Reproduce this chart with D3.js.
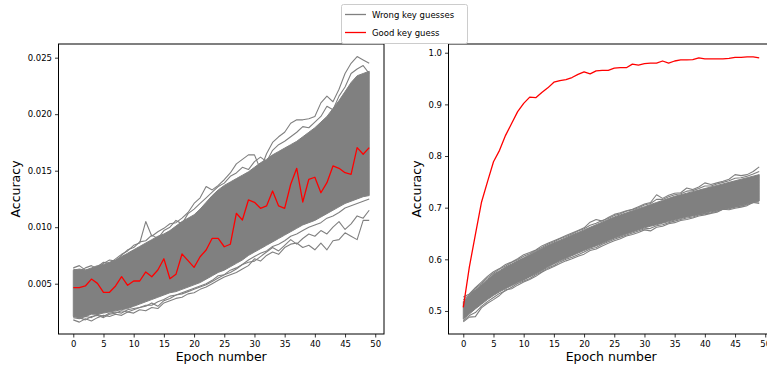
<!DOCTYPE html>
<html>
<head>
<meta charset="utf-8">
<script src="https://cdn.jsdelivr.net/npm/d3@7"></script>
<style>
  body { margin: 0; background: #fff; }
  svg text { font-family: "DejaVu Sans", sans-serif; fill: #000; }
</style>
</head>
<body>
<div id="chart"></div>
<script>
// epochs 0..49 (x categories)
var epochs = d3.range(50);
var xTicks = [0, 5, 10, 15, 20, 25, 30, 35, 40, 45, 50];

// ---- left panel (accuracy per key guess) ----
var leftGood = [0.00465,0.00465,0.0048,0.00541,0.00503,0.00424,0.00424,0.0048,0.00562,0.00486,
  0.00524,0.00524,0.00604,0.00562,0.00621,0.00721,0.00544,0.00583,0.00763,0.00704,
  0.00645,0.00739,0.00798,0.00902,0.00902,0.00827,0.00849,0.01123,0.01064,0.01241,
  0.0122,0.01167,0.01188,0.0132,0.01188,0.01167,0.0138,0.01521,0.01223,0.01424,
  0.01442,0.01305,0.01394,0.01542,0.01521,0.01482,0.01468,0.01704,0.01645,0.01704];
// the wrong guesses pile up into a gray band: its dense core, plus stray lines on each side
var leftUpperCore = [0.0062,0.0063,0.0062,0.0064,0.0066,0.0067,0.0069,0.0071,0.0074,0.0077,
  0.0080,0.0083,0.0086,0.0089,0.0092,0.0094,0.0097,0.0101,0.0105,0.0108,
  0.0111,0.0116,0.0122,0.0128,0.0133,0.0137,0.0140,0.0143,0.0146,0.0149,
  0.0153,0.0157,0.0160,0.0164,0.0167,0.0170,0.0173,0.0176,0.0180,0.0184,
  0.0188,0.0193,0.0198,0.0205,0.0212,0.0220,0.0228,0.0234,0.0236,0.0238];
var leftLowerCore = [0.0021,0.0020,0.0021,0.0023,0.0023,0.0024,0.0025,0.0026,0.0027,0.0028,
  0.0030,0.0032,0.0034,0.0036,0.0038,0.0040,0.0042,0.0043,0.0045,0.0047,
  0.0049,0.0051,0.0054,0.0057,0.0060,0.0062,0.0065,0.0068,0.0071,0.0075,
  0.0078,0.0081,0.0084,0.0087,0.0090,0.0093,0.0096,0.0099,0.0102,0.0104,
  0.0106,0.0109,0.0112,0.0115,0.0118,0.0121,0.0123,0.0125,0.0127,0.0128];
var leftUpperMid = [0.0063,0.0061,0.0064,0.0066,0.0063,0.0068,0.0071,0.0070,0.0075,0.0080,
  0.0082,0.0087,0.0088,0.0093,0.0090,0.0097,0.0100,0.0106,0.0103,0.0112,
  0.0116,0.0121,0.0126,0.0131,0.0136,0.0139,0.0145,0.0148,0.0153,0.0151,
  0.0158,0.0162,0.0158,0.0168,0.0173,0.0176,0.0180,0.0184,0.0189,0.0188,
  0.0193,0.0198,0.0207,0.0204,0.0216,0.0224,0.0236,0.0240,0.0243,0.0236];
var leftUpperOuter = [0.0064,0.0066,0.0062,0.0063,0.0065,0.0069,0.0068,0.0072,0.0076,0.0079,
  0.0084,0.0086,0.0105,0.0092,0.0096,0.0099,0.0103,0.0104,0.0108,0.0113,
  0.0121,0.0126,0.0136,0.0133,0.0137,0.0142,0.0148,0.0156,0.0160,0.0164,
  0.0164,0.0151,0.0165,0.0175,0.0180,0.0184,0.0192,0.0195,0.0195,0.0196,
  0.0198,0.0210,0.0216,0.0211,0.0222,0.0236,0.0245,0.0251,0.0248,0.0245];
var leftLowerMid = [0.0020,0.0019,0.0021,0.0020,0.0023,0.0021,0.0024,0.0025,0.0024,0.0027,
  0.0028,0.0029,0.0031,0.0031,0.0034,0.0036,0.0039,0.0040,0.0042,0.0044,
  0.0046,0.0048,0.0050,0.0053,0.0057,0.0058,0.0062,0.0064,0.0067,0.0071,
  0.0074,0.0077,0.0079,0.0083,0.0085,0.0088,0.0092,0.0094,0.0097,0.0100,
  0.0102,0.0104,0.0108,0.0110,0.0113,0.0117,0.0119,0.0121,0.0123,0.0125];
var leftLowerOuter = [0.0018,0.0016,0.0019,0.0017,0.0020,0.0022,0.0021,0.0023,0.0022,0.0025,
  0.0024,0.0027,0.0026,0.0029,0.0028,0.0033,0.0035,0.0037,0.0038,0.0041,
  0.0042,0.0045,0.0047,0.0050,0.0053,0.0056,0.0058,0.0060,0.0063,0.0066,
  0.0072,0.0070,0.0075,0.0078,0.0076,0.0082,0.0085,0.0086,0.0082,0.0084,
  0.0080,0.0086,0.0080,0.0088,0.0089,0.0095,0.0092,0.0089,0.0106,0.0106];
var leftLowerOuter2 = [0.0021,0.0020,0.0018,0.0021,0.0022,0.0020,0.0023,0.0024,0.0026,0.0025,
  0.0027,0.0029,0.0030,0.0033,0.0030,0.0035,0.0037,0.0040,0.0041,0.0043,
  0.0045,0.0047,0.0049,0.0052,0.0055,0.0058,0.0060,0.0063,0.0067,0.0069,
  0.0070,0.0074,0.0078,0.0082,0.0079,0.0084,0.0089,0.0085,0.0090,0.0094,
  0.0092,0.0097,0.0094,0.0100,0.0105,0.0098,0.0103,0.0110,0.0108,0.0115];
var leftYTicks = [0.005, 0.010, 0.015, 0.020, 0.025];

// ---- right panel ----
var rightGood = [0.507,0.585,0.648,0.710,0.750,0.789,0.811,0.840,0.863,0.886,
  0.902,0.914,0.913,0.923,0.932,0.943,0.946,0.948,0.952,0.958,
  0.963,0.959,0.965,0.966,0.966,0.970,0.971,0.971,0.978,0.976,
  0.979,0.980,0.980,0.984,0.980,0.984,0.986,0.986,0.9865,0.990,
  0.988,0.988,0.988,0.988,0.989,0.991,0.991,0.992,0.992,0.990];
var rightUpperCore = [0.518,0.530,0.541,0.551,0.561,0.571,0.578,0.585,0.591,0.597,
  0.603,0.609,0.615,0.621,0.627,0.632,0.637,0.642,0.647,0.652,
  0.657,0.662,0.667,0.672,0.677,0.682,0.686,0.690,0.694,0.698,
  0.702,0.706,0.710,0.714,0.718,0.722,0.725,0.728,0.731,0.734,
  0.737,0.740,0.743,0.746,0.749,0.752,0.755,0.758,0.761,0.764];
var rightLowerCore = [0.484,0.494,0.504,0.513,0.522,0.530,0.537,0.543,0.549,0.555,
  0.560,0.566,0.572,0.578,0.585,0.591,0.597,0.602,0.607,0.612,
  0.617,0.622,0.626,0.631,0.636,0.641,0.645,0.649,0.653,0.657,
  0.661,0.664,0.667,0.670,0.673,0.676,0.679,0.682,0.684,0.687,
  0.689,0.692,0.694,0.697,0.699,0.702,0.704,0.707,0.710,0.713];
var rightUpperMid = [0.522,0.531,0.544,0.553,0.564,0.573,0.581,0.587,0.594,0.599,
  0.606,0.611,0.617,0.623,0.629,0.634,0.640,0.644,0.649,0.655,
  0.659,0.666,0.670,0.675,0.679,0.685,0.688,0.693,0.696,0.700,
  0.705,0.708,0.716,0.716,0.721,0.725,0.727,0.732,0.733,0.737,
  0.742,0.742,0.746,0.749,0.752,0.757,0.758,0.761,0.765,0.770];
var rightUpperOuter = [0.527,0.533,0.545,0.556,0.567,0.576,0.582,0.590,0.595,0.601,
  0.609,0.613,0.618,0.626,0.631,0.636,0.641,0.646,0.651,0.656,
  0.661,0.672,0.677,0.674,0.681,0.687,0.690,0.694,0.697,0.702,
  0.707,0.710,0.725,0.718,0.724,0.728,0.729,0.738,0.735,0.740,
  0.748,0.745,0.748,0.751,0.755,0.764,0.762,0.764,0.770,0.779];
var rightLowerMid = [0.481,0.491,0.497,0.509,0.518,0.526,0.534,0.539,0.546,0.553,
  0.558,0.563,0.570,0.576,0.583,0.588,0.595,0.600,0.604,0.609,
  0.614,0.620,0.623,0.629,0.634,0.639,0.643,0.647,0.651,0.655,
  0.659,0.660,0.665,0.667,0.671,0.674,0.677,0.680,0.682,0.686,
  0.688,0.690,0.693,0.697,0.698,0.701,0.703,0.706,0.710,0.711];
var rightLowerOuter = [0.479,0.488,0.489,0.506,0.515,0.522,0.530,0.541,0.543,0.550,
  0.556,0.561,0.567,0.575,0.581,0.586,0.592,0.597,0.601,0.606,
  0.610,0.617,0.620,0.626,0.631,0.636,0.640,0.645,0.648,0.652,
  0.657,0.655,0.662,0.664,0.669,0.671,0.675,0.677,0.680,0.684,
  0.686,0.689,0.691,0.697,0.696,0.699,0.701,0.704,0.710,0.708];
var rightYTicks = [0.5, 0.6, 0.7, 0.8, 0.9, 1.0];

var legendLabels = ["Wrong key guesses", "Good key guess"];
var WRONG = "#808080", GOOD = "#ff0000";

var W = 767, H = 366;
var svg = d3.select("#chart").append("svg").attr("width", W).attr("height", H);

/**
 * one accuracy subplot, matplotlib-ish look
 */
function AccuracyPlot(opts){
  var self = this;
  self.opts = opts;
  self.init();
}

AccuracyPlot.prototype.init = function(){
  var self = this, o = self.opts;
  self.g = svg.append("g");
  self.x = d3.scaleLinear().domain([-2.45, 51.45]).range([o.left, o.right]);
  self.y = d3.scaleLinear().domain(o.yDomain).range([o.bottom, o.top]);

  // clip so the band doesn't leak out of the axes box
  var clipId = "clip-" + o.name;
  svg.append("clipPath").attr("id", clipId).append("rect")
    .attr("x", o.left).attr("y", o.top)
    .attr("width", o.right - o.left).attr("height", o.bottom - o.top);
  self.plot = self.g.append("g").attr("clip-path", "url(#" + clipId + ")");
};

AccuracyPlot.prototype.draw = function(){
  var self = this, o = self.opts;
  var x = self.x, y = self.y;

  // gray core of the wrong key guesses
  var band = d3.area()
    .x(function(d){ return x(d); })
    .y0(function(d){ return y(o.lowerCore[d]); })
    .y1(function(d){ return y(o.upperCore[d]); });
  self.plot.append("path").datum(epochs)
    .attr("d", band).attr("fill", WRONG).attr("stroke", WRONG).attr("stroke-width", 1);

  var line = function(arr){
    return d3.line().x(function(d, i){ return x(i); }).y(function(d){ return y(d); })(arr);
  };
  // stray wrong-key lines around the core
  o.strays.forEach(function(arr){
    self.plot.append("path").attr("d", line(arr))
      .attr("fill", "none").attr("stroke", WRONG).attr("stroke-width", 1.1)
      .attr("stroke-linejoin", "round");
  });

  // the right key on top
  self.plot.append("path").attr("d", line(o.good))
    .attr("fill", "none").attr("stroke", GOOD).attr("stroke-width", 1.3)
    .attr("stroke-linejoin", "round");

  // axes
  var xAxis = d3.axisBottom(x).tickValues(xTicks).tickSize(3.5).tickPadding(3).tickFormat(d3.format("d"));
  var yAxis = d3.axisLeft(y).tickValues(o.yTicks).tickSize(3.5).tickPadding(3).tickFormat(d3.format(o.fmt));

  var gx = self.g.append("g").attr("transform", "translate(0," + o.bottom + ")").call(xAxis);
  var gy = self.g.append("g").attr("transform", "translate(" + o.left + ",0)").call(yAxis);
  [gx, gy].forEach(function(ax){
    ax.select(".domain").remove();
    ax.selectAll("text").attr("font-size", 8.5).attr("fill", "#000");
    ax.selectAll("line").attr("stroke", "#000").attr("stroke-width", 0.8);
  });

  // the box
  self.g.append("rect")
    .attr("x", o.left).attr("y", o.top)
    .attr("width", o.right - o.left).attr("height", o.bottom - o.top)
    .attr("fill", "none").attr("stroke", "#000").attr("stroke-width", 1);

  // labels
  self.g.append("text")
    .attr("x", (o.left + o.right) / 2)
    .attr("y", 361)
    .attr("text-anchor", "middle").attr("font-size", 12.5)
    .text("Epoch number");
  self.g.append("text")
    .attr("transform", "translate(" + o.labelX + "," + ((o.top + o.bottom) / 2) + ") rotate(-90)")
    .attr("text-anchor", "middle").attr("font-size", 12.5)
    .text("Accuracy");
};

var left = new AccuracyPlot({
  name: "left", left: 58.5, right: 384, top: 44, bottom: 334,
  yDomain: [0.00055, 0.02621], yTicks: leftYTicks, fmt: ".3f", labelX: 20,
  good: leftGood, upperCore: leftUpperCore, lowerCore: leftLowerCore,
  strays: [leftUpperMid, leftUpperOuter, leftLowerMid, leftLowerOuter2, leftLowerOuter]
});
left.draw();

var right = new AccuracyPlot({
  name: "right", left: 448.5, right: 774, top: 44, bottom: 334,
  yDomain: [0.4554, 1.0169], yTicks: rightYTicks, fmt: ".1f", labelX: 421,
  good: rightGood, upperCore: rightUpperCore, lowerCore: rightLowerCore,
  strays: [rightUpperMid, rightUpperOuter, rightLowerMid, rightLowerOuter]
});
right.draw();

// legend up top, centered
var leg = svg.append("g").attr("transform", "translate(341,4)");
leg.append("rect").attr("x", 0.5).attr("y", 0.5).attr("width", 126).attr("height", 39)
  .attr("rx", 2).attr("fill", "#fff").attr("stroke", "#cccccc").attr("stroke-width", 1);
legendLabels.forEach(function(lbl, i){
  var yy = 10.5 + i * 18;
  leg.append("line").attr("x1", 4).attr("x2", 25).attr("y1", yy).attr("y2", yy)
    .attr("stroke", i == 0 ? WRONG : GOOD).attr("stroke-width", 1.3);
  leg.append("text").attr("x", 31).attr("y", yy + 3).attr("font-size", 8.5).text(lbl);
});
</script>
</body>
</html>
